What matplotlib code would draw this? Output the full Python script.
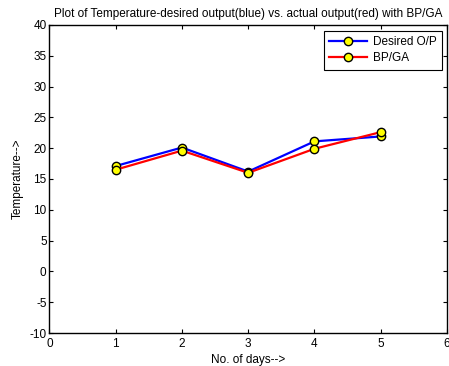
import numpy as np
import matplotlib
matplotlib.use('Agg')
from matplotlib import pyplot as plt

days     = [1, 2, 3, 4, 5]
desired  = [17.1, 20.1, 16.2, 21.1, 21.9]
bpga     = [16.5, 19.6, 16.0, 19.9, 22.6]
xticks   = [0, 1, 2, 3, 4, 5, 6]
yticks   = list(range(-10, 41, 5))

plt.rcParams['font.family'] = ['Liberation Sans', 'DejaVu Sans']
plt.rcParams['font.size'] = 8.5
plt.rcParams['axes.unicode_minus'] = False

fig = plt.figure(figsize=(4.49, 3.66), dpi=100)
ax = fig.add_axes([0.110, 0.090, 0.8855, 0.842])
ax.plot(days, desired, '-o', color='blue', lw=1.6, marker='o', ms=6,
        mfc='yellow', mec='black', mew=1.0, label='Desired O/P')
ax.plot(days, bpga, '-o', color='red', lw=1.6, marker='o', ms=6,
        mfc='yellow', mec='black', mew=1.0, label='BP/GA')
ax.set_xlim(0, 6)
ax.set_ylim(-10, 40)
ax.set_xticks(xticks)
ax.set_yticks(yticks)
ax.tick_params(direction='in', top=True, right=True, length=3, width=0.8, pad=2)
ax.tick_params(axis='x', pad=3.5)
for s in ax.spines.values():
    s.set_linewidth(1.0)
ax.set_title('Plot of Temperature-desired output(blue) vs. actual output(red) with BP/GA', fontsize=8.5, pad=6)
ax.set_xlabel('No. of days-->', labelpad=3)
ax.set_ylabel('Temperature-->', labelpad=4)
leg = ax.legend(loc='upper right', fancybox=False, edgecolor='black', framealpha=1,
                handlelength=3.2, borderpad=0.45, labelspacing=0.35, handletextpad=0.5,
                borderaxespad=0, bbox_to_anchor=(0.987, 0.981))
leg.get_frame().set_linewidth(0.8)
fig.savefig('out.png', dpi=100)
